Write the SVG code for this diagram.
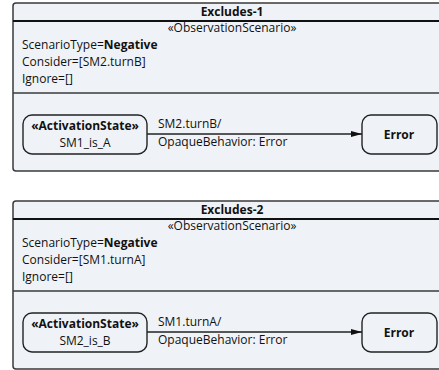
<svg xmlns="http://www.w3.org/2000/svg" width="439" height="370" viewBox="0 0 439 370">
<style>
text{font-family:"Open Sans","Liberation Sans",sans-serif;font-size:12px;fill:#111}
.b{font-weight:bold}
.c{text-anchor:middle}
.frame{fill:#eff3f7;stroke:#3a3a3a;stroke-width:1.5}
.sep{stroke:#3a3a3a;stroke-width:1.5}
.hdr{stroke:#111;stroke-width:2}
.st{fill:#eff3f7;stroke:#222;stroke-width:1.4}
.edge{stroke:#222;stroke-width:1.4;fill:none}
</style>
<defs>
<marker id="ah" markerWidth="12" markerHeight="8" refX="11" refY="4" orient="auto" markerUnits="userSpaceOnUse">
<path d="M0,1 L11,4 L0,7 Z" fill="#111"/>
</marker>
</defs>

<g id="excludes-1">
<rect class="frame" x="13" y="3" width="440" height="168" rx="3"/>
<line class="hdr" x1="13" y1="21" x2="453" y2="21"/>
<line class="sep" x1="13" y1="93" x2="453" y2="93"/>
<text class="b c" x="232" y="16">Excludes-1</text>
<text class="c" x="232" y="32">«ObservationScenario»</text>
<text x="22" y="49">ScenarioType=<tspan class="b">Negative</tspan></text>
<text x="22" y="66">Consider=[SM2.turnB]</text>
<text x="22" y="83">Ignore=[]</text>
</g>
<g id="sm1_is_a">
<rect class="st" x="23" y="115" width="124" height="39" rx="9"/>
<text class="b c" x="85" y="130">«ActivationState»</text>
<text class="c" x="85" y="147">SM1_is_A</text>
</g>
<g id="error-1">
<rect class="st" x="362" y="115" width="75" height="39" rx="9"/>
<text class="b c" x="399" y="139">Error</text>
</g>

<g id="excludes-2">
<rect class="frame" x="13" y="201" width="440" height="168" rx="3"/>
<line class="hdr" x1="13" y1="219" x2="453" y2="219"/>
<line class="sep" x1="13" y1="291" x2="453" y2="291"/>
<text class="b c" x="232" y="214">Excludes-2</text>
<text class="c" x="232" y="230">«ObservationScenario»</text>
<text x="22" y="247">ScenarioType=<tspan class="b">Negative</tspan></text>
<text x="22" y="264">Consider=[SM1.turnA]</text>
<text x="22" y="281">Ignore=[]</text>
</g>
<g id="sm2_is_b">
<rect class="st" x="23" y="313" width="124" height="39" rx="9"/>
<text class="b c" x="85" y="328">«ActivationState»</text>
<text class="c" x="85" y="345">SM2_is_B</text>
</g>
<g id="error-2">
<rect class="st" x="362" y="313" width="75" height="39" rx="9"/>
<text class="b c" x="399" y="337">Error</text>
</g>

<g id="connectors">
<line class="edge" x1="147" y1="134" x2="362" y2="134" marker-end="url(#ah)"/>
<text x="158" y="128">SM2.turnB/</text>
<text x="158" y="146">OpaqueBehavior: Error</text>
<line class="edge" x1="147" y1="332" x2="362" y2="332" marker-end="url(#ah)"/>
<text x="158" y="326">SM1.turnA/</text>
<text x="158" y="344">OpaqueBehavior: Error</text>
</g>
</svg>
